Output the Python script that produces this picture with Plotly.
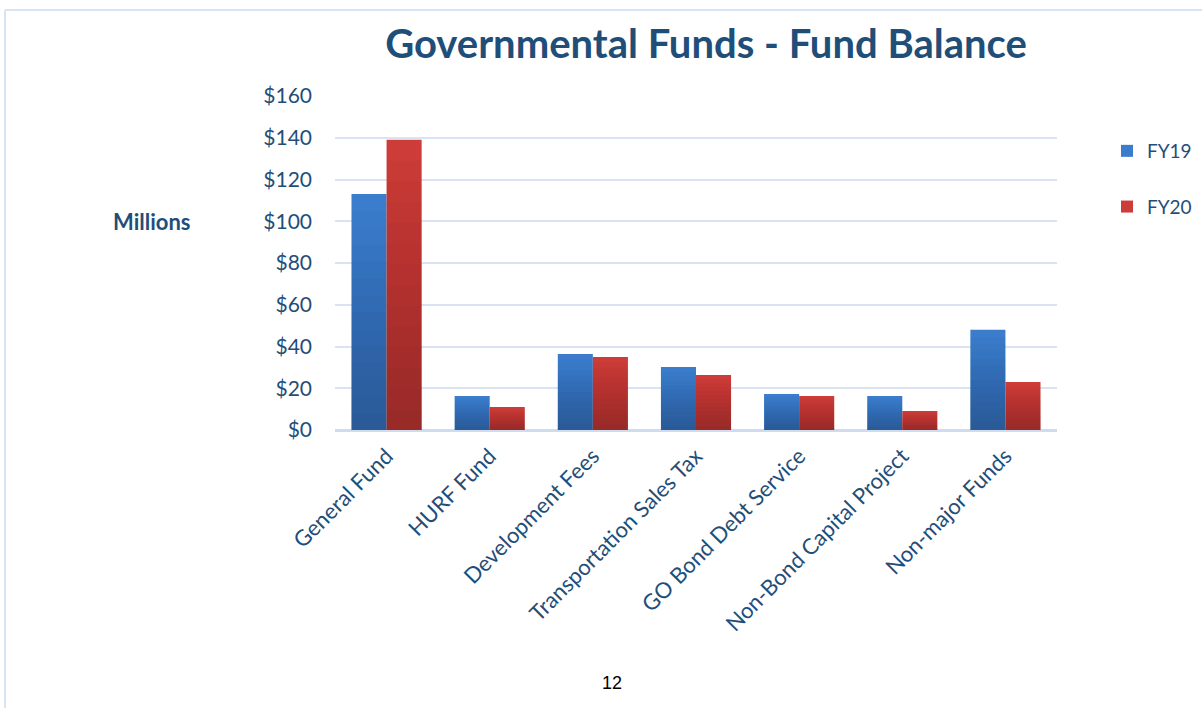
import plotly.graph_objects as go

# Fund balances, in millions of dollars
categories = [
    "General Fund",
    "HURF Fund",
    "Development Fees",
    "Transportation Sales Tax",
    "GO Bond Debt Service",
    "Non-Bond Capital Project",
    "Non-major Funds",
]
fy19 = [113, 16.3, 36.4, 30.2, 17.2, 16.3, 48]
fy20 = [139, 11, 35, 26.3, 16.3, 9.1, 23]
y_ticks = [0, 20, 40, 60, 80, 100, 120, 140, 160]
y_tick_text = ["$" + str(v) for v in y_ticks]

W, H = 1202, 708
PLOT_L, PLOT_R, PLOT_T, PLOT_B = 335, 1057, 96, 430
TEXT = "#1f4e79"
FONT = "Lato, Open Sans, sans-serif"
BAR_W = 0.34          # width of one bar, in category units
SHADE_STEPS = 14      # layers used to darken each bar towards its base


def px_x(x):
    return (x - PLOT_L) / (PLOT_R - PLOT_L)


def px_y(y):
    return (PLOT_B - y) / (PLOT_B - PLOT_T)


fig = go.Figure()

series = [
    ("FY19", fy19, "#3b7dcc", -BAR_W),
    ("FY20", fy20, "#cd3c38", 0.0),
]
for name, values, color, offset in series:
    fig.add_trace(go.Bar(
        name=name, x=categories, y=values,
        offset=offset, width=BAR_W,
        marker=dict(color=color, line=dict(width=0)),
        legendgroup=name,
    ))
    # vertical shading: lower parts of each bar get more dark layers
    for k in range(1, SHADE_STEPS):
        frac = k / SHADE_STEPS
        fig.add_trace(go.Bar(
            x=categories, y=[v * frac for v in values],
            offset=offset, width=BAR_W,
            marker=dict(color="rgba(0,0,0,0.021)", line=dict(width=0)),
            showlegend=False, hoverinfo="skip", legendgroup=name,
        ))

fig.update_layout(
    width=W, height=H,
    margin=dict(l=PLOT_L, r=W - PLOT_R, t=PLOT_T, b=H - PLOT_B, autoexpand=False),
    paper_bgcolor="white", plot_bgcolor="white",
    barmode="overlay",
    font=dict(family=FONT, color=TEXT),
    showlegend=True,
    legend=dict(
        xref="container", yref="container",
        x=1107 / W, y=1 - 132 / H, xanchor="left", yanchor="top",
        font=dict(size=19, color=TEXT, family=FONT),
        tracegroupgap=28, bgcolor="rgba(0,0,0,0)",
    ),
    xaxis=dict(
        tickangle=-45, tickfont=dict(size=22, color=TEXT),
        showgrid=False, showline=False, ticks="",
        zeroline=False, ticklabelstandoff=8,
    ),
    yaxis=dict(
        range=[0, 160], tickvals=y_ticks, ticktext=y_tick_text,
        tickfont=dict(size=21, color=TEXT),
        showgrid=True, gridcolor="#d9e3f1", gridwidth=2,
        zeroline=True, zerolinecolor="#cfdcee", zerolinewidth=3,
        showline=False, ticks="", ticklabelstandoff=22,
    ),
    title=dict(
        text="<b>Governmental Funds - Fund Balance</b>",
        x=px_x(706), xref="paper", xanchor="center",
        y=1 - 44 / H, yanchor="middle",
        font=dict(size=40, color=TEXT, family=FONT),
    ),
)

# y-axis caption
fig.add_annotation(
    text="<b>Millions</b>", xref="paper", yref="paper",
    x=px_x(152), y=px_y(221), xanchor="center", yanchor="middle",
    showarrow=False, font=dict(size=22, color=TEXT, family=FONT),
)

# page number
fig.add_annotation(
    text="12", xref="paper", yref="paper",
    x=px_x(612), y=px_y(683), xanchor="center", yanchor="middle",
    showarrow=False, font=dict(size=18, color="black", family="Liberation Sans, Arial"),
)

# page frame (top and left edges)
fig.add_shape(
    type="line", xref="paper", yref="paper",
    x0=px_x(5), x1=px_x(1210), y0=px_y(10), y1=px_y(10),
    line=dict(color="#d8e4f2", width=2), layer="below",
)
fig.add_shape(
    type="line", xref="paper", yref="paper",
    x0=px_x(5), x1=px_x(5), y0=px_y(10), y1=px_y(720),
    line=dict(color="#d8e4f2", width=2), layer="below",
)

fig.write_html("out.html")
